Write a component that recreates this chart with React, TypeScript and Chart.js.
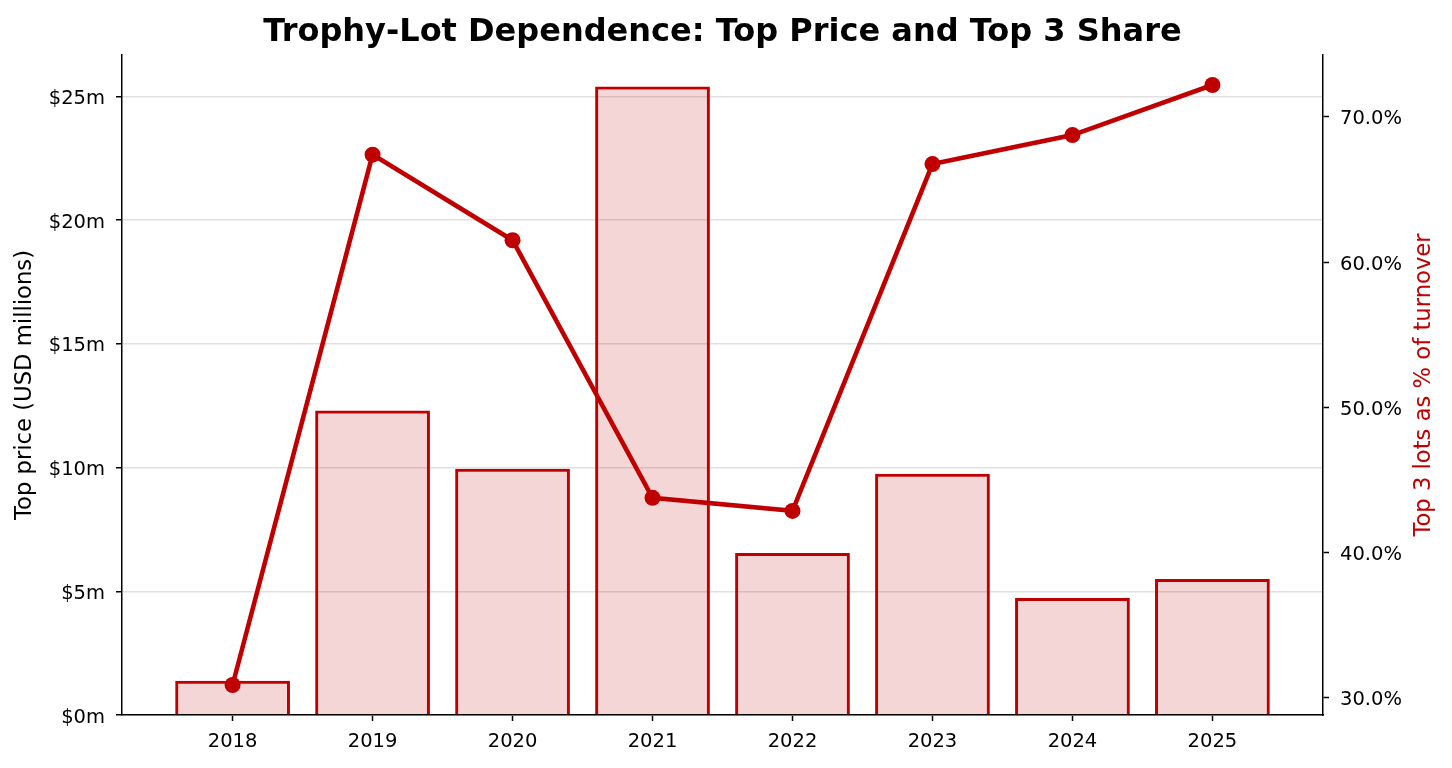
import React, { useEffect, useRef } from 'react';
import { Chart, registerables } from 'chart.js';

Chart.register(...registerables);

const years = ['2018', '2019', '2020', '2021', '2022', '2023', '2024', '2025'];
const topPriceM = [1.38, 12.3, 9.95, 25.4, 6.55, 9.75, 4.73, 5.5];
const top3SharePct = [30.85, 67.4, 61.5, 43.75, 42.85, 66.75, 68.75, 72.2];
const priceTicks = [0, 5, 10, 15, 20, 25];
const shareTicks = [30, 40, 50, 60, 70];

const titleText = 'Trophy-Lot Dependence: Top Price and Top 3 Share';
const leftLabel = 'Top price (USD millions)';
const rightLabel = 'Top 3 lots as % of turnover';

const RED = '#c00000';
const FILL = 'rgba(192,0,0,0.16)';
const FONT = '"DejaVu Sans", sans-serif';
const TICK_FONT = { family: FONT, size: 19.5 };

export default function App() {
  const ref = useRef<HTMLCanvasElement>(null);

  useEffect(() => {
    const canvas = ref.current;
    if (!canvas) return;

    const pMax = Math.max(...topPriceM) * 1.05;
    const sLo = Math.min(...top3SharePct);
    const sHi = Math.max(...top3SharePct);
    const sR = sHi - sLo;
    const n = years.length;
    const xMargin = 0.05 * (n - 1 + 0.8);

    const textPlugin = {
      id: 'texts',
      afterDraw(chart: any) {
        const c = chart.ctx as CanvasRenderingContext2D;
        const a = chart.chartArea;
        const cy = (a.top + a.bottom) / 2;
        c.save();
        c.fillStyle = '#000';
        c.textAlign = 'center';
        c.textBaseline = 'alphabetic';
        c.font = `bold 32px ${FONT}`;
        c.fillText(titleText, (a.left + a.right) / 2, 41);

        c.font = `22.7px ${FONT}`;
        c.save();
        c.translate(a.left - 91, cy);
        c.rotate(-Math.PI / 2);
        c.fillText(leftLabel, 0, 0);
        c.restore();

        c.fillStyle = RED;
        c.save();
        c.translate(a.right + 107, cy);
        c.rotate(-Math.PI / 2);
        c.fillText(rightLabel, 0, 0);
        c.restore();
        c.restore();
      },
    };

    const chart = new Chart(canvas, {
      type: 'bar',
      data: {
        datasets: [
          {
            type: 'line',
            data: top3SharePct.map((v, i) => ({ x: i, y: v })),
            xAxisID: 'x',
            yAxisID: 'y2',
            borderColor: RED,
            borderWidth: 4.6,
            pointRadius: 8,
            pointBackgroundColor: RED,
            pointBorderWidth: 0,
            pointHoverRadius: 8,
            tension: 0,
            order: 1,
          } as any,
          {
            type: 'bar',
            data: topPriceM.map((v, i) => ({ x: i, y: v })),
            xAxisID: 'x',
            yAxisID: 'y',
            backgroundColor: FILL,
            borderColor: RED,
            borderWidth: 3,
            categoryPercentage: 1,
            barPercentage: 0.82,
            order: 2,
          } as any,
        ],
      },
      options: {
        animation: false,
        responsive: true,
        maintainAspectRatio: false,
        layout: { padding: { top: 55, left: 0, right: 0, bottom: 0 } },
        plugins: {
          legend: { display: false },
          tooltip: { enabled: false },
          title: { display: false },
        },
        scales: {
          x: {
            type: 'linear',
            min: -xMargin - 0.4,
            max: n - 1 + 0.4 + xMargin,
            offset: false,
            afterBuildTicks: (s: any) => {
              s.ticks = years.map((_, i) => ({ value: i }));
            },
            afterFit: (s: any) => {
              s.height = 53;
            },
            ticks: {
              font: TICK_FONT,
              color: '#000',
              padding: 9,
              maxRotation: 0,
              autoSkip: false,
              callback: (v: any) => years[Math.round(Number(v))] ?? '',
            },
            grid: {
              offset: false,
              drawOnChartArea: false,
              drawTicks: true,
              tickLength: 6,
              tickColor: '#000',
              tickWidth: 1.5,
            },
            border: { display: true, color: '#000', width: 1.5 },
          },
          y: {
            type: 'linear',
            position: 'left',
            min: 0,
            max: pMax,
            afterBuildTicks: (s: any) => {
              s.ticks = priceTicks.map((v) => ({ value: v }));
            },
            afterFit: (s: any) => {
              s.width = 122;
            },
            ticks: {
              font: TICK_FONT,
              color: '#000',
              padding: 11,
              labelOffset: 2.5,
              callback: (v: any) => `$${v}m`,
            },
            grid: {
              color: '#e0e0e0',
              lineWidth: 1.5,
              drawTicks: true,
              tickLength: 6,
              tickColor: '#000',
              tickWidth: 1.5,
            },
            border: { display: true, color: '#000', width: 1.5 },
          },
          y2: {
            type: 'linear',
            position: 'right',
            min: sLo - 0.05 * sR,
            max: sHi + 0.05 * sR,
            afterBuildTicks: (s: any) => {
              s.ticks = shareTicks.map((v) => ({ value: v }));
            },
            afterFit: (s: any) => {
              s.width = 129;
            },
            ticks: {
              font: TICK_FONT,
              color: '#000',
              padding: 11,
              labelOffset: 2.5,
              callback: (v: any) => `${Number(v).toFixed(1)}%`,
            },
            grid: {
              drawOnChartArea: false,
              drawTicks: true,
              tickLength: 6,
              tickColor: '#000',
              tickWidth: 1.5,
            },
            border: { display: true, color: '#000', width: 1.5 },
          },
        },
      } as any,
      plugins: [textPlugin],
    });

    return () => chart.destroy();
  }, []);

  return (
    <div style={{ position: 'absolute', left: 0, top: 0, width: 1452, height: 768 }}>
      <canvas ref={ref} />
    </div>
  );
}
